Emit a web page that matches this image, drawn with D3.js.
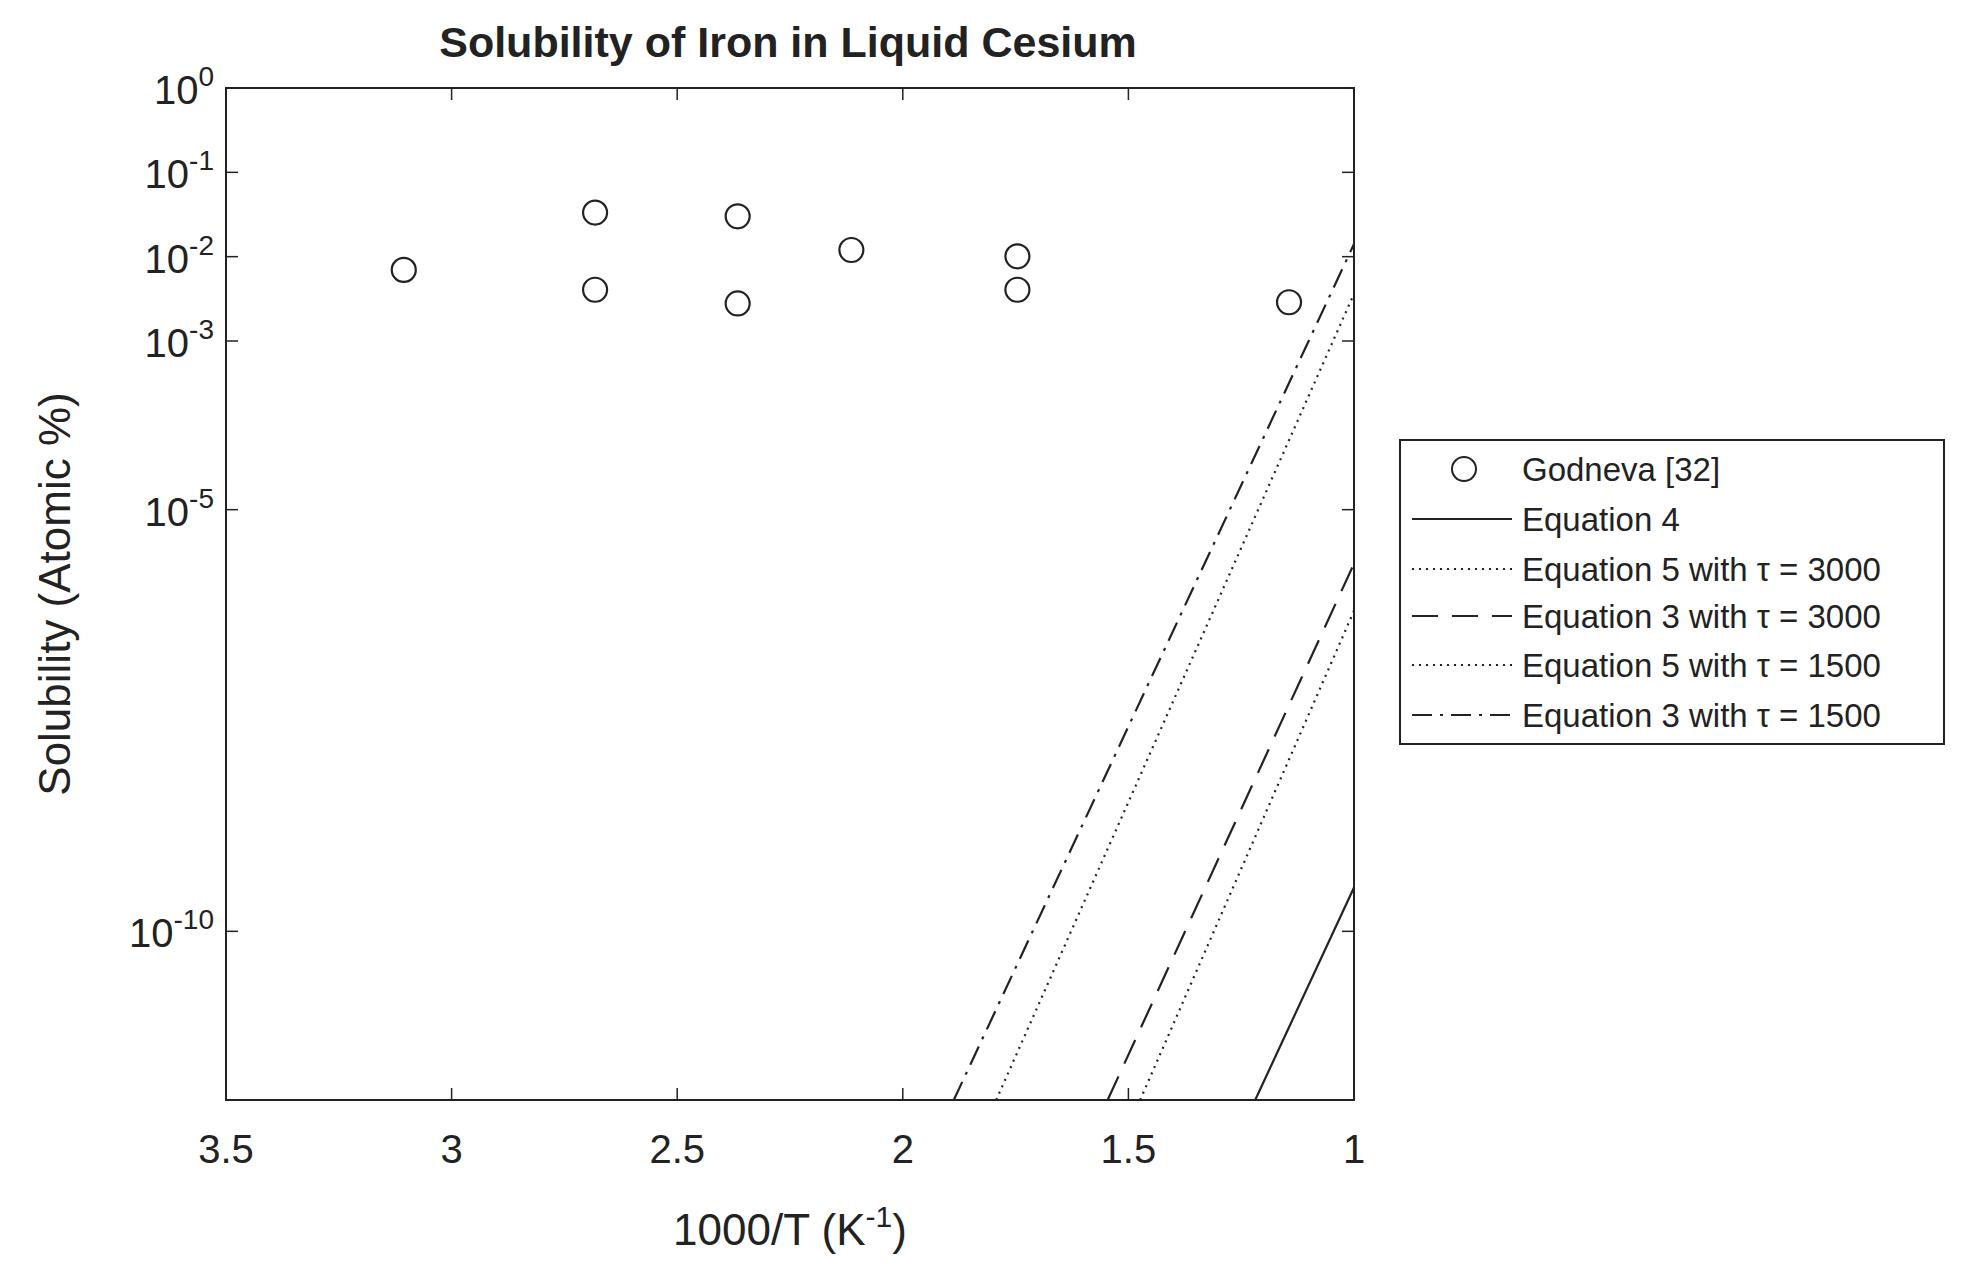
<!DOCTYPE html>
<html>
<head>
<meta charset="utf-8">
<script src="https://cdn.jsdelivr.net/npm/d3@7"></script>
<style>
  body { margin: 0; background: #fff; }
  text { font-family: "Liberation Sans", Arial, sans-serif; fill: #222; }
</style>
</head>
<body>
<svg id="chart" width="1961" height="1275"></svg>
<script>
// Godneva [32] measurements
const godX = [3.106, 2.682, 2.682, 2.366, 2.366, 2.114, 1.746, 1.746, 1.144];
const godY = [0.00697, 0.0333, 0.00405, 0.0301, 0.00279, 0.012, 0.0101, 0.00405, 0.00288];

// model lines: endpoints [1000/T, log10 solubility]
const eq4 = [[1.219, -12], [1.0, -9.48]];
const eq5t3000 = [[1.474, -12], [1.0, -6.20]];
const eq3t3000 = [[1.546, -12], [1.0, -5.64]];
const eq5t1500 = [[1.793, -12], [1.0, -2.44]];
const eq3t1500 = [[1.887, -12], [1.0, -1.85]];

const xTicks = [3.5, 3, 2.5, 2, 1.5, 1];
const yTickExp = [0, -1, -2, -3, -5, -10];

const svg = d3.select("#chart");
const L = 226, R = 1354, T = 88, B = 1100;

const x = d3.scaleLinear().domain([3.5, 1]).range([L, R]);
const y = d3.scaleLog().domain([1e-12, 1]).range([B, T]);

// axes box
svg.append("rect").attr("x", L).attr("y", T).attr("width", R - L).attr("height", B - T)
  .attr("fill", "none").attr("stroke", "#222").attr("stroke-width", 2);

// ticks (inside, on all sides)
const tl = 12;
xTicks.forEach(v => {
  svg.append("line").attr("x1", x(v)).attr("x2", x(v)).attr("y1", B).attr("y2", B - tl).attr("stroke", "#222").attr("stroke-width", 1.5);
  svg.append("line").attr("x1", x(v)).attr("x2", x(v)).attr("y1", T).attr("y2", T + tl).attr("stroke", "#222").attr("stroke-width", 1.5);
  svg.append("text").attr("x", x(v)).attr("y", B + 63).attr("text-anchor", "middle")
    .attr("font-size", 40).text(d3.format("")(v));
});
yTickExp.forEach(e => {
  const yy = y(Math.pow(10, e));
  svg.append("line").attr("x1", L).attr("x2", L + tl).attr("y1", yy).attr("y2", yy).attr("stroke", "#222").attr("stroke-width", 1.5);
  svg.append("line").attr("x1", R).attr("x2", R - tl).attr("y1", yy).attr("y2", yy).attr("stroke", "#222").attr("stroke-width", 1.5);
  const t = svg.append("text").attr("x", L - 12).attr("y", yy + 16).attr("text-anchor", "end").attr("font-size", 40);
  t.append("tspan").text("10");
  t.append("tspan").attr("dy", -18).attr("font-size", 28).text(String(e));
});

// lines
const line = d3.line().x(d => x(d[0])).y(d => y(Math.pow(10, d[1])));
const series = [
  { name: "Equation 4", data: eq4, dash: null },
  { name: "Equation 5 with τ = 3000", data: eq5t3000, dash: "2,5" },
  { name: "Equation 3 with τ = 3000", data: eq3t3000, dash: "26,14" },
  { name: "Equation 5 with τ = 1500", data: eq5t1500, dash: "2,5" },
  { name: "Equation 3 with τ = 1500", data: eq3t1500, dash: "20,8,3,8" }
];
series.forEach(s => {
  svg.append("path").attr("d", line(s.data)).attr("fill", "none").attr("stroke", "#222")
    .attr("stroke-width", 2.2).attr("stroke-dasharray", s.dash);
});

// markers
svg.selectAll("circle.god").data(godX).enter().append("circle")
  .attr("cx", d => x(d)).attr("cy", (d, i) => y(godY[i])).attr("r", 12)
  .attr("fill", "none").attr("stroke", "#222").attr("stroke-width", 2.2);

// title and labels
svg.append("text").attr("x", 788).attr("y", 57).attr("text-anchor", "middle")
  .attr("font-size", 43).attr("font-weight", "bold").text("Solubility of Iron in Liquid Cesium");
const xl = svg.append("text").attr("x", 790).attr("y", 1245).attr("text-anchor", "middle").attr("font-size", 44);
xl.append("tspan").text("1000/T (K");
xl.append("tspan").attr("dy", -18).attr("font-size", 30).text("-1");
xl.append("tspan").attr("dy", 18).text(")");
svg.append("text").attr("transform", "translate(70,594) rotate(-90)").attr("text-anchor", "middle")
  .attr("font-size", 44).text("Solubility (Atomic %)");

// legend
const lg = svg.append("g");
lg.append("rect").attr("x", 1400).attr("y", 440).attr("width", 544).attr("height", 304)
  .attr("fill", "#fff").attr("stroke", "#222").attr("stroke-width", 2);
const rows = [469, 519, 569, 616, 665, 715];
lg.append("circle").attr("cx", 1464).attr("cy", rows[0]).attr("r", 12)
  .attr("fill", "none").attr("stroke", "#222").attr("stroke-width", 2);
lg.append("text").attr("x", 1522).attr("y", rows[0] + 12).attr("font-size", 33).text("Godneva [32]");
series.forEach((s, i) => {
  const ry = rows[i + 1];
  lg.append("line").attr("x1", 1412).attr("x2", 1512).attr("y1", ry).attr("y2", ry)
    .attr("stroke", "#222").attr("stroke-width", 2).attr("stroke-dasharray", s.dash);
  lg.append("text").attr("x", 1522).attr("y", ry + 12).attr("font-size", 33).text(s.name);
});
</script>
</body>
</html>
